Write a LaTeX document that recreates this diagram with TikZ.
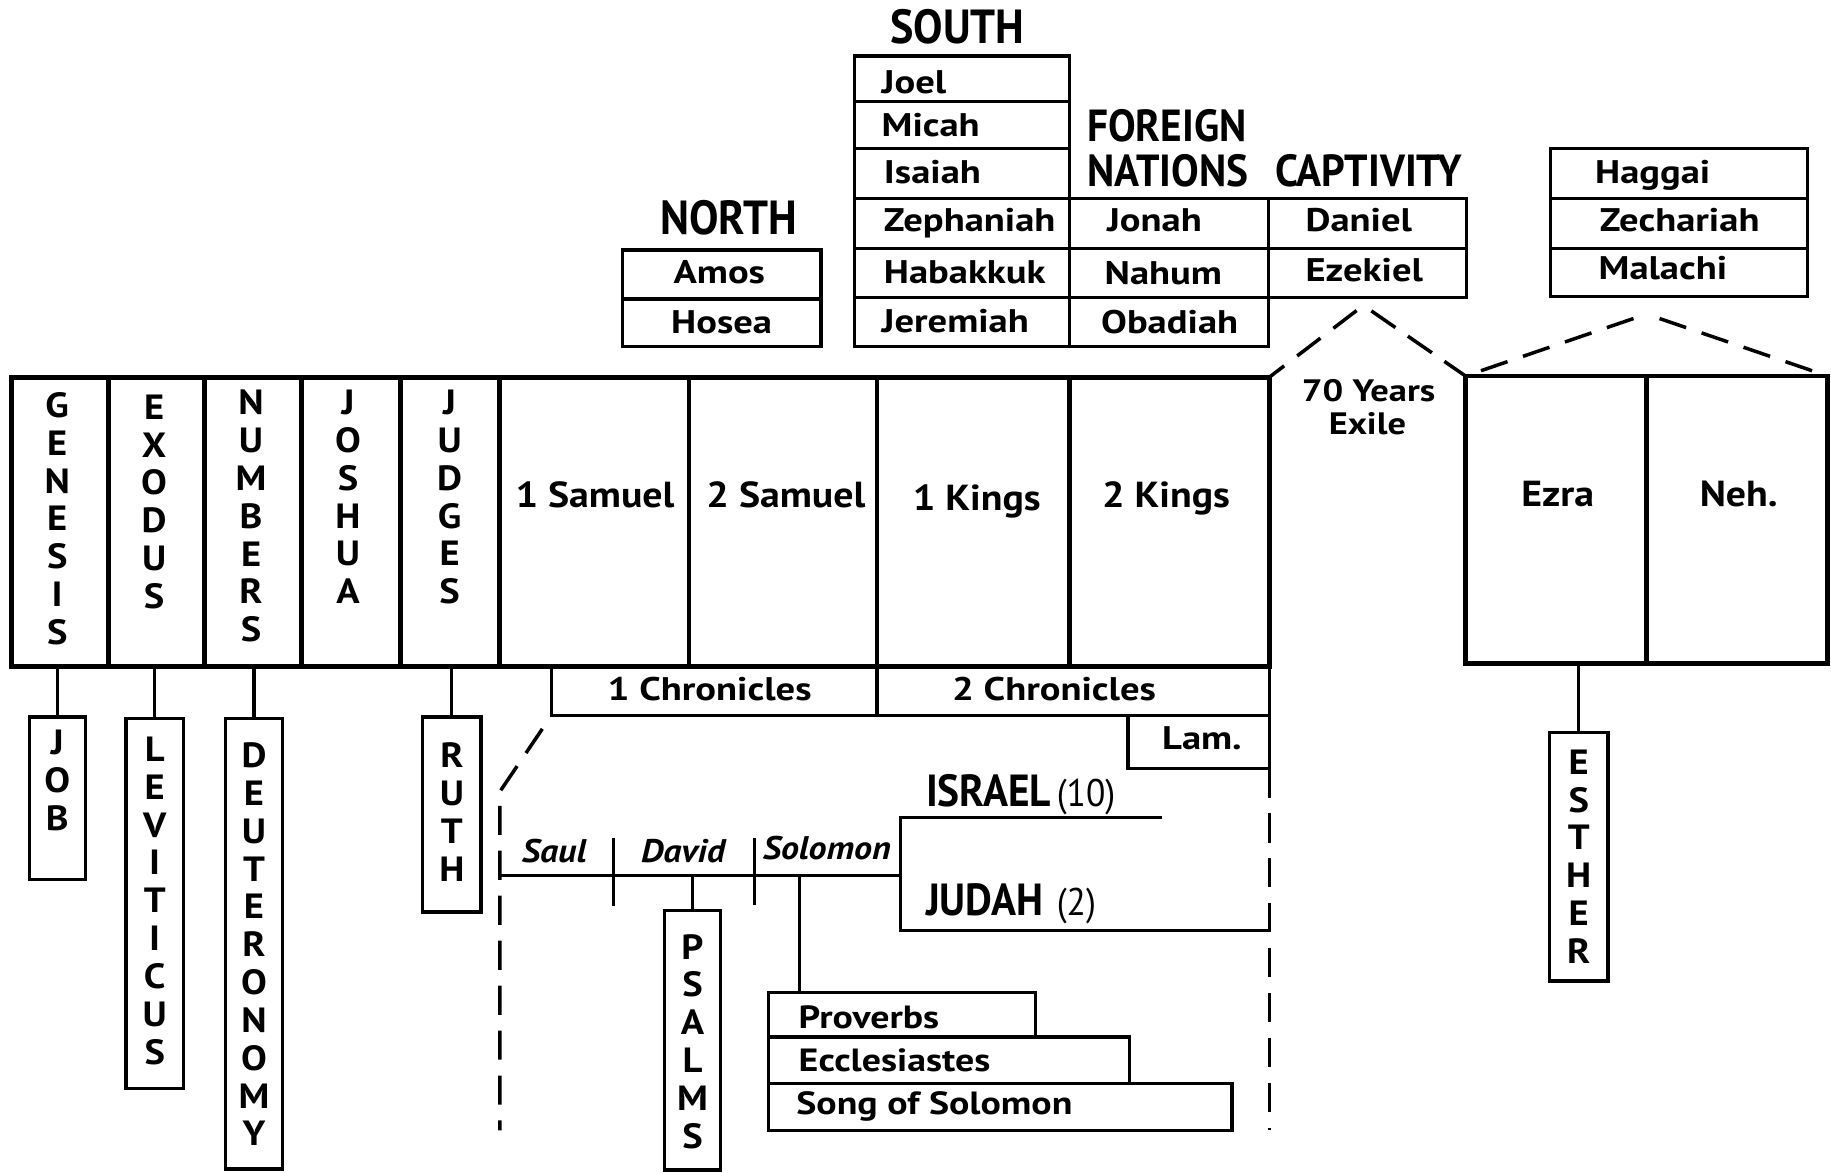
\documentclass[tikz,border=0pt]{standalone}
\usepackage{fontspec}
\setmainfont{PT Sans}
\newfontfamily\bodyf[FakeStretch=1.1]{PT Sans}
\newfontfamily\widef[FakeStretch=1.18]{PT Sans}
\newfontfamily\condf[FakeStretch=0.92]{PT Sans}
\newcommand\bx[6][]{\node[box,minimum width={#5pt-#3pt},minimum height={#6pt-#4pt},#1] (#2) at ({(#3+#5)/2},{(#4+#6)/2}) {};}
\begin{document}
\begin{tikzpicture}[x=1pt,y=-1pt,
 box/.style={draw,line width=2.8pt,inner sep=0pt,outer sep=0pt},
 big/.style={line width=4pt},
 lab/.style={inner sep=0pt,outer sep=0pt,font=\widef\bfseries\fontsize{28}{30}\selectfont},
 mlab/.style={lab,font=\bodyf\bfseries\fontsize{31}{34}\selectfont},
 slab/.style={lab,font=\widef\bfseries\fontsize{26.5}{28}\selectfont},
 plab/.style={lab,font=\widef\bfseries\fontsize{27.5}{28}\selectfont},
 hd/.style={inner sep=0pt,outer sep=0pt,font=\condf\bfseries\fontsize{38.5}{40}\selectfont},
 hdb/.style={hd,font=\condf\bfseries\fontsize{41}{42}\selectfont},
 num/.style={inner sep=0pt,outer sep=0pt,font=\condf\fontsize{33}{36}\selectfont},
 vt/.style={inner sep=0pt,outer sep=0pt,align=center,font=\bodyf\bfseries\fontsize{30}{32.4}\selectfont},
 it/.style={inner sep=0pt,outer sep=0pt,font=\bodyf\bfseries\itshape\fontsize{28}{30}\selectfont},
 conn/.style={line width=2.6pt},
 dsh/.style={line width=3pt,dash pattern=on 25pt off 13.5pt},
 roof/.style={line width=3pt},
]
\useasboundingbox (0,0) rectangle (1568,1004);
% ---------- main strip ----------
\bx[big]{gen}{10}{323}{93}{571}
\bx[big]{exo}{93}{323}{175}{571}
\bx[big]{num}{175}{323}{258}{571}
\bx[big]{jos}{258}{323}{343}{571}
\bx[big]{jud}{343}{323}{428}{571}
\bx[big]{sam1}{428}{323}{590}{571}
\bx[big]{sam2}{590}{323}{751}{571}
\bx[big]{kgs1}{751}{323}{916}{571}
\bx[big]{kgs2}{916}{323}{1087}{571}
\node[vt,anchor=north] (tgen) at (49,336) {G\\E\\N\\E\\S\\I\\S};
\node[vt,anchor=north] (texo) at (132,338) {E\\X\\O\\D\\U\\S};
\node[vt,anchor=north] (tnum) at (215,334) {N\\U\\M\\B\\E\\R\\S};
\node[vt,anchor=north] (tjos) at (298,334) {J\\O\\S\\H\\U\\A};
\node[vt,anchor=north] (tjud) at (385,334) {J\\U\\D\\G\\E\\S};
\node[mlab,anchor=base] (tsam1) at (509.5,435) {1 Samuel};
\node[mlab,anchor=base] (tsam2) at (673,435) {2 Samuel};
\node[mlab,anchor=base] (tkgs1) at (836.5,437) {1 Kings};
\node[mlab,anchor=base] (tkgs2) at (998.5,435) {2 Kings};
% ---------- Ezra / Nehemiah ----------
\bx[big]{ezra}{1255}{322}{1410}{568}
\bx[big]{neh}{1410}{322}{1565}{568}
\node[mlab,anchor=base] (tezra) at (1334,434) {Ezra};
\node[mlab,anchor=base] (tneh) at (1489,434) {Neh.};
\node[slab,anchor=base] (t70) at (1172,344) {70 Years};
\node[slab,anchor=base] (texile) at (1171,372.5) {Exile};
% ---------- chronicles ----------
\bx{chr1}{472}{571}{751}{613}
\bx{chr2}{751}{571}{1087}{613}
\bx{lam}{966}{613}{1087}{658}
\node[lab,anchor=base] (tchr1) at (607.7,600) {1 Chronicles};
\node[lab,anchor=base] (tchr2) at (902.6,600) {2 Chronicles};
\node[lab,anchor=base] (tlam) at (1029.3,642) {Lam.};
% ---------- hanging books ----------
\bx{job}{25}{614}{73}{753}
\bx{lev}{108}{615}{157}{932}
\bx{deut}{193}{615}{242}{1001}
\bx{ruth}{362}{614}{412}{781}
\bx{esth}{1327}{627}{1377}{840}
\draw[conn] (job.north) -- (job.north |- gen.south);
\draw[conn] (lev.north) -- (lev.north |- exo.south);
\draw[conn] (deut.north) -- (deut.north |- num.south);
\draw[conn] (ruth.north) -- (ruth.north |- jud.south);
\draw[conn] (esth.north) -- (esth.north |- ezra.south);
\node[vt,anchor=north] (tjob) at (49,625) {J\\O\\B};
\node[vt,anchor=north] (tlev) at (132.5,631) {L\\E\\V\\I\\T\\I\\C\\U\\S};
\node[vt,anchor=north] (tdeut) at (217.5,636) {D\\E\\U\\T\\E\\R\\O\\N\\O\\M\\Y};
\node[vt,anchor=north] (truth) at (387,636) {R\\U\\T\\H};
\node[vt,anchor=north] (testh) at (1352,642) {E\\S\\T\\H\\E\\R};
% ---------- kingdom timeline ----------
\coordinate (tl0) at (428,750);
\coordinate (tl1) at (771,750);
\coordinate (fk0) at (771,700);
\coordinate (fk1) at (771,797);
\coordinate (isrE) at (995,700);
\coordinate (judE) at (1087,797);
\coordinate (tk1a) at (525.5,718); \coordinate (tk1b) at (525.5,776);
\coordinate (tk2a) at (646,718); \coordinate (tk2b) at (646,775);
\coordinate (solc) at (685,750);
\draw[conn] (tl0) -- (tl1);
\draw[conn] (isrE) -- (fk0) -- (fk1) -- (judE);
\draw[conn] (tk1a) -- (tk1b);
\draw[conn] (tk2a) -- (tk2b);
\node[it,anchor=base] (tsaul) at (474.5,739) {Saul};
\node[it,anchor=base] (tdavid) at (585,739) {David};
\node[it,anchor=base] (tsol) at (708,736) {Solomon};
\bx{psa}{569}{780}{617}{1002}
\draw[conn] (psa.north) -- (psa.north |- tl0);
\node[vt,anchor=north] (tpsa) at (593,800) {P\\S\\A\\L\\M\\S};
\bx{prov}{658}{850}{887}{888}
\bx{eccl}{658}{888}{967}{928}
\bx{song}{658}{928}{1055}{968}
\draw[conn] (solc) -- (solc |- prov.north);
\node[plab,anchor=base west] (tprov) at (684,881) {Proverbs};
\node[plab,anchor=base west] (teccl) at (684,918) {Ecclesiastes};
\node[plab,anchor=base west] (tsong) at (682,954) {Song of Solomon};
\node[hd,anchor=base west] (tisr) at (793,690.5) {ISRAEL};
\node[num,anchor=base west] (tisrn) at (905,690.5) {(10)};
\node[hd,anchor=base west] (tjdh) at (793,784.4) {JUDAH};
\node[num,anchor=base west] (tjdhn) at (905,784.4) {(2)};
% ---------- dashed boundaries ----------
\coordinate (dl1) at (428,678);
\coordinate (dl2) at (428,968);
\coordinate (dr2) at (1087,968);
\draw[dsh,dash phase=25pt] (chr1.south west) -- (dl1) -- (dl2);
\draw[dsh] (lam.south east) -- (dr2);
\coordinate (apL1) at (1163,265);
\coordinate (apL2) at (1174,266);
\coordinate (apR1) at (1404,271);
\coordinate (apR2) at (1416,271);
\draw[roof,dash pattern=on 25pt off 14pt,dash phase=9pt] (kgs2.north east) -- (apL1);
\draw[roof,dash pattern=on 25pt off 13pt,dash phase=3pt] (ezra.north west) -- (apL2);
\draw[roof,dash pattern=on 24pt off 14pt,dash phase=24pt] (ezra.north west) -- (apR1);
\draw[roof,dash pattern=on 24pt off 14pt,dash phase=24pt] (neh.north east) -- (apR2);
% ---------- prophets ----------
\bx{joel}{732}{48}{916}{87}
\bx{micah}{732}{87}{916}{127}
\bx{isaiah}{732}{127}{916}{170}
\bx{zeph}{732}{170}{916}{213}
\bx{hab}{732}{213}{916}{255}
\bx{jer}{732}{255}{916}{297}
\bx{jonah}{916}{170}{1086}{213}
\bx{nahum}{916}{213}{1086}{255}
\bx{obad}{916}{255}{1086}{297}
\bx{dan}{1086}{170}{1256}{213}
\bx{ezek}{1086}{213}{1256}{255}
\bx{amos}{533}{214}{703}{256}
\bx{hosea}{533}{256}{703}{297}
\bx{hag}{1328}{127}{1548}{170}
\bx{zech}{1328}{170}{1548}{213}
\bx{mal}{1328}{213}{1548}{254}
\node[lab,anchor=base west] (tjoel) at (755,80) {Joel};
\node[lab,anchor=base west] (tmic) at (755,117) {Micah};
\node[lab,anchor=base west] (tisa) at (757,157) {Isaiah};
\node[lab,anchor=base west] (tzep) at (757,198) {Zephaniah};
\node[lab,anchor=base west] (thab) at (757,243) {Habakkuk};
\node[lab,anchor=base west] (tjer) at (755,285) {Jeremiah};
\node[lab,anchor=base west] (tjon) at (948,198) {Jonah};
\node[lab,anchor=base west] (tnah) at (946,244) {Nahum};
\node[lab,anchor=base west] (toba) at (943,285.5) {Obadiah};
\node[lab,anchor=base west] (tdan) at (1118,198) {Daniel};
\node[lab,anchor=base west] (teze) at (1118,241) {Ezekiel};
\node[lab,anchor=base] (tamo) at (616,242.6) {Amos};
\node[lab,anchor=base] (thos) at (618,285.5) {Hosea};
\node[lab,anchor=base west] (thag) at (1366,157) {Haggai};
\node[lab,anchor=base west] (tzec) at (1370,198.5) {Zechariah};
\node[lab,anchor=base west] (tmal) at (1369,239.5) {Malachi};
\node[hdb,anchor=base] (hsouth) at (820,37) {SOUTH};
\node[hdb,anchor=base] (hnorth) at (624,201) {NORTH};
\node[hd,anchor=base west] (hfor) at (931,121) {FOREIGN};
\node[hd,anchor=base west] (hnat) at (931,160) {NATIONS};
\node[hd,anchor=base west] (hcap) at (1092,160) {CAPTIVITY};
\end{tikzpicture}
\end{document}
